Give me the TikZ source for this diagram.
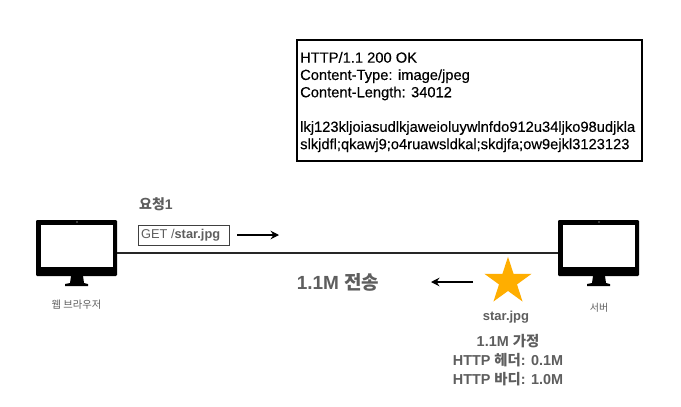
\documentclass[tikz,border=0pt]{standalone}
\usepackage{fontspec}
\setmainfont{Liberation Sans}
\newfontfamily\kr{Noto Sans CJK KR}
\newfontfamily\medfont[FakeBold=0.25]{Liberation Sans}
\usetikzlibrary{arrows.meta,shapes.geometric}
\definecolor{txtgray}{HTML}{5E5E5E}
\definecolor{stargold}{HTML}{FFAE00}
\tikzset{
 x=1pt,y=-1pt,
 monitor/.style={draw=none,fill=black,rounded corners=1.2pt,minimum width=81pt,minimum height=56pt,inner sep=0pt,outer sep=0pt},
 screen/.style={draw=none,fill=white,minimum width=72pt,minimum height=42pt,inner sep=0pt},
 lbl/.style={text=txtgray,font=\bfseries,inner sep=0pt,align=center},
 flow/.style={draw=black,line width=1.1pt,-{Stealth[length=8.5pt,width=8.5pt,inset=3pt]}},
 msgbox/.style={draw=black,line width=2pt,minimum width=345pt,minimum height=121pt,inner sep=0pt},
 reqbox/.style={draw=black!75,fill=white,line width=.8pt,minimum width=91pt,minimum height=20pt,inner sep=0pt},
}
\begin{document}
\begin{tikzpicture}
\useasboundingbox (0,0) rectangle (681,407);
\fill[white] (0,0) rectangle (681,407);
% response message
\node[msgbox] (msg) at (469.5,100.5) {};
\node[anchor=north west,inner sep=0pt,align=left,font=\fontsize{14.7}{17.3}\selectfont\medfont,text=black] (msgtxt) at (300,51.8)
 {HTTP/1.1 200 OK\\Content-Type: image/jpeg\\Content-Length: 34012\\[17.3pt]lkj123kljoiasudlkjaweioluywlnfdo912u34ljko98udjkla\\slkjdfl;qkawj9;o4ruawsldkal;skdjfa;ow9ejkl3123123};
% monitors
\node[monitor] (browser) at (76.5,248) {};
\node[screen] at (77,246) {};
\fill[white] (77,222) circle (.6);
\fill[black] (71,276) -- (83,276) -- (84,283) -- (88,284) -- (88,286) -- (65,286) -- (65,284) -- (70,283) -- cycle;
\node[monitor] (server) at (598.5,248) {};
\node[screen] at (599,246) {};
\fill[white] (599,222) circle (.6);
\fill[black] (593,276) -- (605,276) -- (606,283) -- (610,284) -- (610,286) -- (587,286) -- (587,284) -- (592,283) -- cycle;
% link
\draw[line width=1.1pt,black!85] (browser.east |- 0,253) -- (server.west |- 0,253);
% labels
\node[lbl,anchor=west,font=\fontsize{14}{16}\selectfont\bfseries] (req) at (139,204) {{\kr 요청}1};
\node[reqbox] (get) at (183.5,235) {};
\node[anchor=west,inner sep=0pt,text=txtgray,font=\fontsize{12.8}{15}\selectfont] (gettxt) at (141,235.6) {GET /\textbf{star.jpg}};
\coordinate (a1s) at (237,235); \coordinate (a1e) at (279,235);
\draw[flow] (a1s) -- (a1e);
\node[lbl,font=\fontsize{19}{22}\selectfont\bfseries] (size) at (338,282) {1.1M {\kr 전송}};
\coordinate (a2s) at (473,282); \coordinate (a2e) at (431,282);
\draw[flow] (a2s) -- (a2e);
\node[star,star points=5,star point ratio=2.618,fill=stargold,draw=none,minimum size=49.5pt,inner sep=0pt] (starimg) at (508,281.5) {};
\node[lbl,font=\fontsize{13}{15}\selectfont\bfseries] (starname) at (506,317) {star.jpg};
\node[lbl,font=\fontsize{14.4}{19}\selectfont\bfseries] (info) at (508,360) {1.1M {\kr 가정}\\HTTP {\kr 헤더}: 0.1M\\HTTP {\kr 바디}: 1.0M};
\node[lbl,font=\fontsize{10.3}{12}\selectfont\kr] (blabel) at (76.5,305) {웹 브라우저};
\node[lbl,font=\fontsize{10}{12}\selectfont\kr] (slabel) at (599,308) {서버};
\end{tikzpicture}
\end{document}
